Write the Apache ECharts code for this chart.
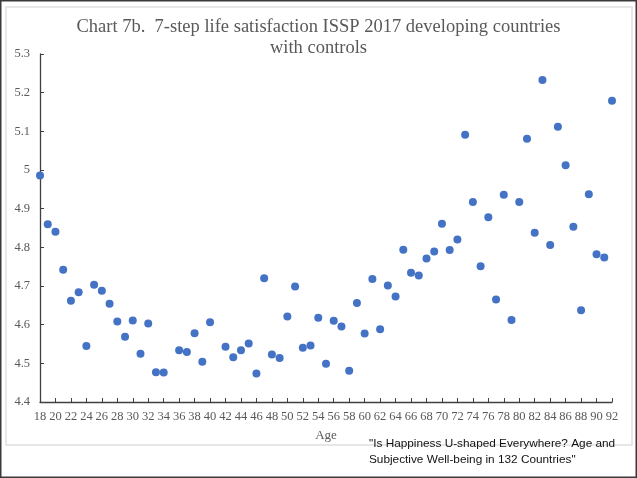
<!DOCTYPE html>
<html>
<head>
<meta charset="utf-8">
<script src="https://cdn.jsdelivr.net/npm/echarts@6/dist/echarts.min.js"></script>
<style>
  html, body { margin: 0; padding: 0; background: #fff; }
  #chart { width: 637px; height: 478px; }
</style>
</head>
<body>
<div id="chart"></div>
<script>
// ages (35 and 41 are missing in the source chart)
var ages = [18, 19, 20, 21, 22, 23, 24, 25, 26, 27, 28, 29, 30, 31, 32, 33, 34,
  36, 37, 38, 39, 40, 42, 43, 44, 45, 46, 47, 48, 49, 50, 51, 52, 53, 54, 55,
  56, 57, 58, 59, 60, 61, 62, 63, 64, 65, 66, 67, 68, 69, 70, 71, 72, 73, 74,
  75, 76, 77, 78, 79, 80, 81, 82, 83, 84, 85, 86, 87, 88, 89, 90, 91, 92];

var satisfaction = [4.986, 4.860, 4.840, 4.742, 4.662, 4.684, 4.545, 4.703, 4.688,
  4.654, 4.608, 4.569, 4.611, 4.525, 4.603, 4.477, 4.476,
  4.534, 4.529, 4.578, 4.504, 4.606, 4.543, 4.516, 4.534, 4.551, 4.474, 4.720,
  4.523, 4.514, 4.621, 4.699, 4.540, 4.546, 4.618, 4.499,
  4.610, 4.595, 4.481, 4.656, 4.577, 4.718, 4.588, 4.701, 4.673, 4.794, 4.734,
  4.727, 4.771, 4.789, 4.861, 4.793, 4.820, 5.091, 4.917,
  4.751, 4.878, 4.665, 4.936, 4.612, 4.917, 5.081, 4.838, 5.233, 4.806, 5.112,
  5.012, 4.853, 4.637, 4.937, 4.782, 4.774, 5.179];

var titleLines = ['Chart 7b.  7-step life satisfaction ISSP 2017 developing countries', 'with controls'];
var captionLines = ['"Is Happiness U-shaped Everywhere? Age and', 'Subjective Well-being in 132 Countries"'];

var points = [];
ages.forEach(function (a, i) {
  points.push([a, satisfaction[i]]);
});

var myChart = echarts.init(document.getElementById('chart'));

var serif = '"Liberation Serif", "DejaVu Serif", serif';
var grey = '#595959';

var option = {
  animation: false,
  backgroundColor: '#fff',
  title: {
    text: titleLines.join('\n'),
    left: 'center',
    top: 12,
    textStyle: {
      fontFamily: serif,
      fontSize: 18.5,
      fontWeight: 'normal',
      color: grey,
      lineHeight: 21
    }
  },
  grid: {
    left: 40,
    right: 25,
    top: 54,
    bottom: 76
  },
  xAxis: {
    type: 'value',
    min: 18,
    max: 92,
    interval: 2,
    name: 'Age',
    nameLocation: 'middle',
    nameGap: 27,
    nameTextStyle: { fontFamily: serif, fontSize: 13, color: grey },
    axisLine: { lineStyle: { color: '#404040', width: 1.3 } },
    axisTick: { inside: true, length: 4, lineStyle: { color: '#404040' } },
    axisLabel: { fontFamily: serif, fontSize: 12.5, color: grey, margin: 8 },
    splitLine: { show: false }
  },
  yAxis: {
    type: 'value',
    min: 4.4,
    max: 5.3,
    interval: 0.1,
    axisLine: { show: true, lineStyle: { color: '#404040', width: 1.3 } },
    axisTick: { show: true, inside: true, length: 4, lineStyle: { color: '#404040' } },
    axisLabel: {
      fontFamily: serif, fontSize: 12.5, color: grey, margin: 10,
      formatter: function (v) { return String(Math.round(v * 10) / 10); }
    },
    splitLine: { show: false }
  },
  series: [{
    type: 'scatter',
    data: points,
    symbolSize: 8,
    itemStyle: { color: '#4472C4', opacity: 1 }
  }],
  graphic: [
    {
      type: 'rect',
      shape: { x: 6, y: 7, width: 626, height: 438 },
      style: { fill: 'none', stroke: '#e0e0e0', lineWidth: 1.5 },
      silent: true
    },
    {
      type: 'rect',
      shape: { x: 0.75, y: 0.75, width: 635.5, height: 476.5 },
      style: { fill: 'none', stroke: '#3a3a3a', lineWidth: 1.5 },
      silent: true
    },
    {
      type: 'text',
      left: 369,
      top: 436,
      style: {
        text: captionLines.join('\n'),
        font: '11.8px "Liberation Sans", Arial, sans-serif',
        fill: '#111',
        lineHeight: 16
      },
      silent: true
    }
  ]
};

try {
  myChart.setOption(option);
} catch (e) {
  console.log(e);
}
</script>
</body>
</html>
